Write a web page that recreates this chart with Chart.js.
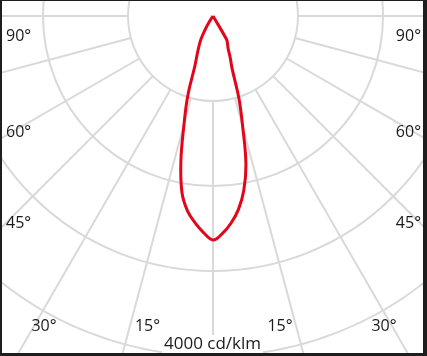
<!DOCTYPE html>
<html>
<head>
<meta charset="utf-8">
<script src="https://cdn.jsdelivr.net/npm/chart.js@4"></script>
<style>
  html, body { margin: 0; padding: 0; background: #1e1e1e; width: 427px; height: 356px; overflow: hidden; }
  #polarChart { position: absolute; left: 2px; top: 1px; }
</style>
</head>
<body>
<canvas id="polarChart" width="421" height="352"></canvas>
<script>
// angle from nadir (deg) and luminous intensity (cd/klm) for each half
const angles = [0, 2.5, 5, 7.5, 10, 12.5, 15, 17.5, 20, 22.5, 25, 27.5, 30, 32.5, 35];
const leftValues = [2635, 2550, 2440, 2310, 2105, 1745, 1315, 990, 620, 485, 390, 305, 190, 90, 0];
const rightValues = [2635, 2560, 2445, 2295, 2085, 1790, 1350, 1010, 655, 527, 420, 370, 320, 0, 0];

// grid
const ringValues = [1000, 2000, 3000, 4000];
const rayAngles = [-90, -75, -60, -45, -30, -15, 0, 15, 30, 45, 60, 75, 90];
const sideLabels = ['90°', '60°', '45°'];
const bottomLabels = ['30°', '15°', '15°', '30°'];
const scaleLabel = '4000 cd/klm';

function toXY(angle, value) {
    const a = angle * Math.PI / 180;
    return { x: value * Math.sin(a), y: -value * Math.cos(a) };
}

const points = [];
for (let i = angles.length - 1; i > 0; i--) points.push(toXY(-angles[i], leftValues[i]));
points.push(toXY(0, leftValues[0]));
for (let i = 1; i < angles.length; i++) points.push(toXY(angles[i], rightValues[i]));

const unit = 1000 / 85; // cd/klm per pixel

const gridPlugin = {
    id: 'polarGrid',
    beforeDraw(chart) {
        const ctx = chart.ctx;
        ctx.save();
        ctx.fillStyle = '#ffffff';
        ctx.fillRect(0, 0, chart.width, chart.height);
        ctx.restore();
    },
    beforeDatasetsDraw(chart) {
        const { ctx, chartArea, scales } = chart;
        const x = scales.x, y = scales.y;
        const cx = x.getPixelForValue(0), cy = y.getPixelForValue(0);
        ctx.save();
        ctx.beginPath();
        ctx.rect(chartArea.left, chartArea.top, chartArea.right - chartArea.left, chartArea.bottom - chartArea.top);
        ctx.clip();
        ctx.strokeStyle = '#d9d9d9';
        ctx.lineWidth = 2;
        ringValues.forEach(r => {
            ctx.beginPath();
            ctx.arc(cx, cy, x.getPixelForValue(r) - cx, 0, Math.PI * 2);
            ctx.stroke();
        });
        rayAngles.forEach(a => {
            const p1 = toXY(a, ringValues[0]);
            const p2 = toXY(a, 8000);
            ctx.beginPath();
            ctx.moveTo(x.getPixelForValue(p1.x), y.getPixelForValue(p1.y));
            ctx.lineTo(x.getPixelForValue(p2.x), y.getPixelForValue(p2.y));
            ctx.stroke();
        });
        ctx.restore();
    },
    afterDatasetsDraw(chart) {
        const ctx = chart.ctx;
        ctx.save();
        ctx.font = '16px "Open Sans"';
        ctx.fillStyle = '#1a1a1a';
        ctx.textBaseline = 'alphabetic';
        const sideY = [40, 136, 227];
        sideLabels.forEach((t, i) => {
            ctx.textAlign = 'left';
            ctx.fillText(t, 4, sideY[i]);
            ctx.textAlign = 'right';
            ctx.fillText(t, 419, sideY[i]);
        });
        const bottomX = [42, 145.5, 278, 382];
        ctx.textAlign = 'center';
        bottomLabels.forEach((t, i) => ctx.fillText(t, bottomX[i], 330));

        ctx.font = '17px "Open Sans"';
        const w = ctx.measureText(scaleLabel).width;
        ctx.fillStyle = '#ffffff';
        ctx.fillRect(210.5 - w / 2 - 2, 334, w + 4, 20);
        ctx.fillStyle = '#1a1a1a';
        ctx.fillText(scaleLabel, 210.5, 348);
        ctx.restore();
    }
};

new Chart(document.getElementById('polarChart').getContext('2d'), {
    type: 'scatter',
    data: {
        datasets: [{
            data: points,
            showLine: true,
            borderColor: '#e3061b',
            borderWidth: 3,
            pointRadius: 0,
            tension: 0.4
        }]
    },
    options: {
        responsive: false,
        animation: false,
        devicePixelRatio: 1,
        layout: { padding: 0 },
        plugins: { legend: { display: false }, tooltip: { enabled: false } },
        scales: {
            x: { type: 'linear', display: false, min: -211 * unit, max: 210 * unit },
            y: { type: 'linear', display: false, min: -337 * unit, max: 15 * unit }
        }
    },
    plugins: [gridPlugin]
});
</script>
</body>
</html>
